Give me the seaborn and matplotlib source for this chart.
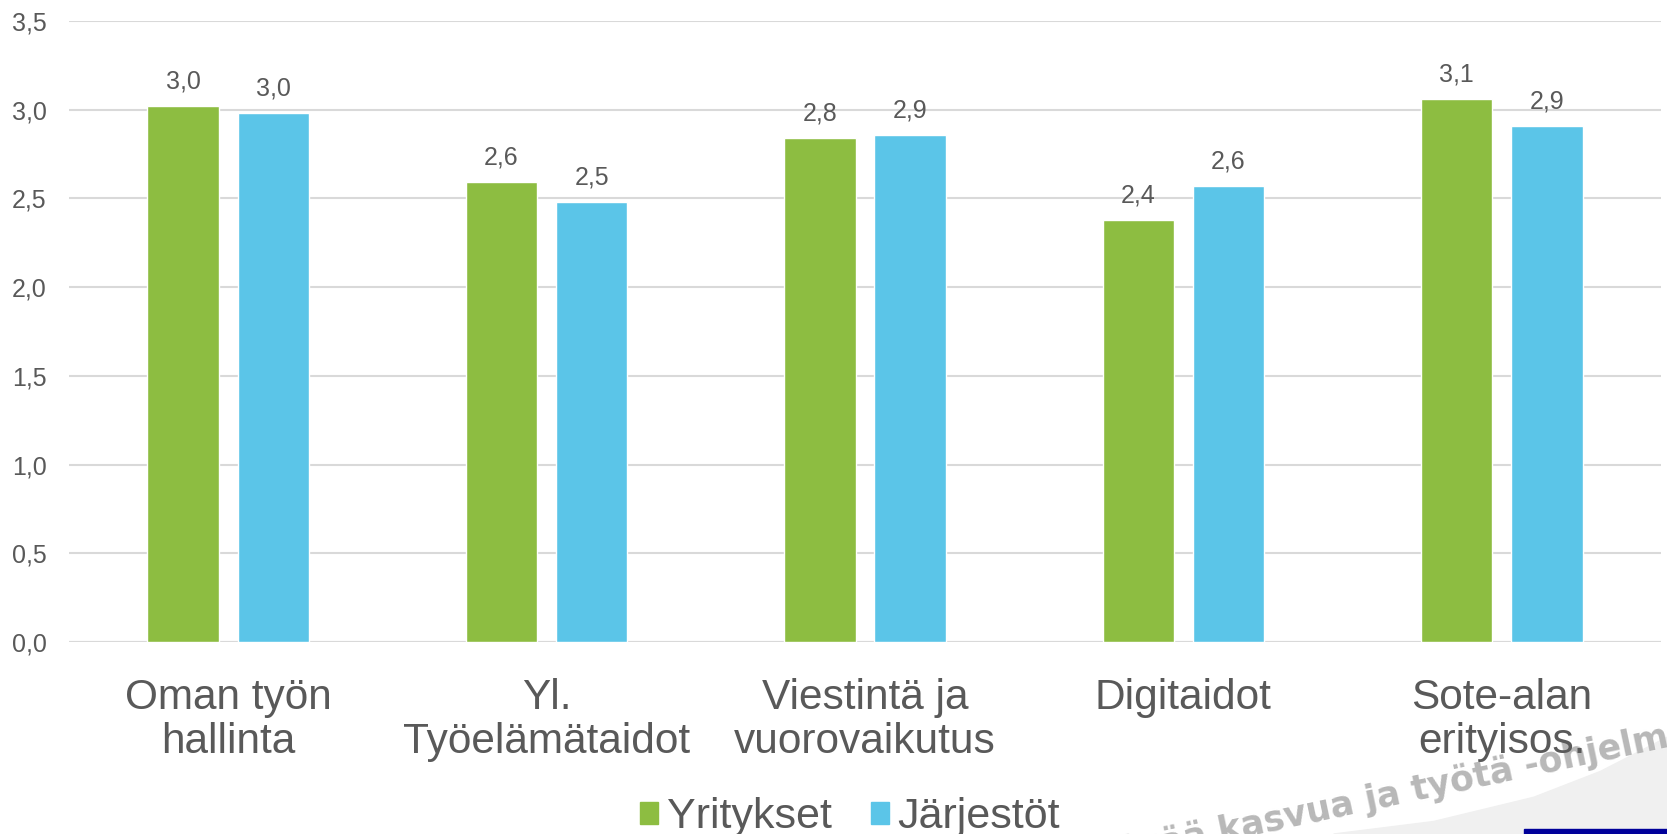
import pandas as pd
import seaborn as sns
import matplotlib.pyplot as plt
from matplotlib.patches import Rectangle, Polygon

# Data
categories = ['Oman työn\nhallinta', 'Yl.\nTyöelämätaidot', 'Viestintä ja\nvuorovaikutus',
              'Digitaidot', 'Sote-alan\nerityisos.']
groups = ['Yritykset', 'Järjestöt']
yritykset = [3.02, 2.59, 2.84, 2.38, 3.06]
jarjestot = [2.98, 2.48, 2.86, 2.57, 2.91]
yticks = [0.0, 0.5, 1.0, 1.5, 2.0, 2.5, 3.0, 3.5]

colors = {'Yritykset': '#8dbd41', 'Järjestöt': '#5bc5e8'}
textcol = '#595959'

df = pd.DataFrame({
    'kategoria': categories * 2,
    'ryhma': [groups[0]] * len(categories) + [groups[1]] * len(categories),
    'arvo': yritykset + jarjestot,
})

sns.set_theme(style='white')
plt.rcParams['font.family'] = ['Liberation Sans', 'DejaVu Sans']

fig = plt.figure(figsize=(16.67, 8.34), dpi=100)
ax = fig.add_axes([0.0414, 0.2302, 0.9550, 0.7446])

sns.barplot(data=df, x='kategoria', y='arvo', hue='ryhma', palette=colors,
            saturation=1, width=0.567, gap=0.21, ax=ax, legend=False, zorder=3)

for cont in ax.containers:
    labels = [f'{b.get_height():.1f}'.replace('.', ',') for b in cont]
    ax.bar_label(cont, labels=labels, padding=9, fontsize=18, color=textcol)

ax.set_ylim(0, 3.5)
ax.set_yticks(yticks)
ax.set_yticklabels([f'{t:.1f}'.replace('.', ',') for t in yticks])
ax.set_xlim(-0.5, len(categories) - 0.5)
ax.grid(axis='y', color='#d9d9d9', linewidth=1.5, zorder=0)
ax.set_axisbelow(True)
sns.despine(ax=ax, left=True, bottom=True, top=True, right=True)
ax.axhline(0, color='#d9d9d9', linewidth=1.5, zorder=1)
ax.set_xlabel('')
ax.set_ylabel('')
ax.tick_params(axis='y', labelsize=18, colors=textcol, length=0, pad=16)
ax.tick_params(axis='x', labelsize=30.5, colors=textcol, length=0, pad=26)
for lab in ax.get_xticklabels():
    lab.set_linespacing(1.14)
    lab.set_verticalalignment('top')

# Legend
handles = [Rectangle((0, 0), 1, 1, color=colors[g]) for g in groups]
fig.legend(handles, groups, loc='center', bbox_to_anchor=(0.51, 0.02), ncol=2,
           frameon=False, fontsize=31, labelcolor=textcol, handlelength=0.42,
           handleheight=0.42, handletextpad=0.2, columnspacing=0.9,
           borderpad=0, borderaxespad=0)

# Background decoration in the bottom right corner (slide template)
curve = Polygon([(0.80, 0.0), (0.86, 0.015), (0.92, 0.044), (0.96, 0.075),
                 (1.0, 0.116), (1.0, 0.0)],
                closed=True, transform=fig.transFigure, color='#f0f0f0', zorder=-5)
fig.patches.append(curve)
fig.patches.append(Rectangle((0.914, 0.0), 0.086, 0.006, transform=fig.transFigure,
                             color='#00009a', zorder=-4))
fig.text(1.0156, 0.111, 'Kestävää kasvua ja työtä -ohjelma', fontsize=25, color='#b8b8b8',
         fontweight='bold', rotation=12, rotation_mode='anchor', ha='right',
         va='baseline', zorder=-3, family=['DejaVu Sans'])

fig.savefig('out.png', dpi=100)
